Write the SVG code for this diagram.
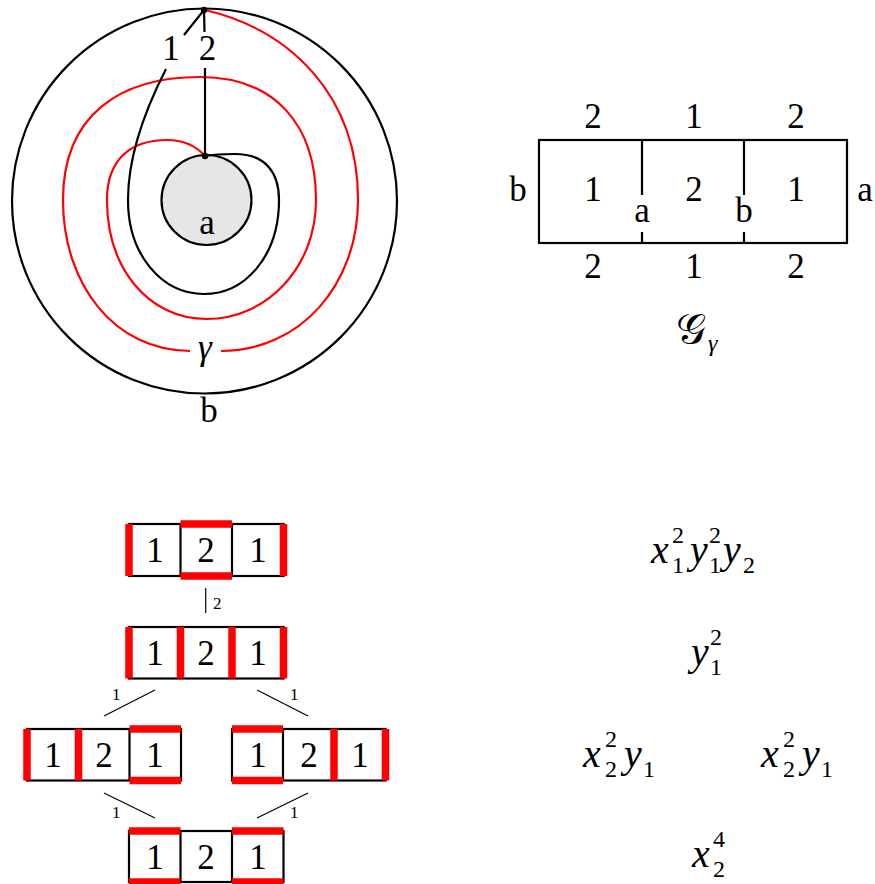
<svg xmlns="http://www.w3.org/2000/svg" width="875" height="884" viewBox="0 0 875 884">
<style>
  text { font-family: "Liberation Serif", "Times New Roman", serif; fill: #000; }
  .lab { font-size: 35px; text-anchor: middle; }
  .it { font-style: italic; font-size: 40px; }
  .sc { font-size: 24px; }
  .sm { font-size: 17px; }
  .blk { fill: none; stroke: #000; stroke-width: 2.2; }
  .red { fill: none; stroke: #ff0000; stroke-width: 2.2; }
  .cell { fill: #fff; stroke: #000; stroke-width: 2.2; }
  .hl { stroke: #ff0000; stroke-width: 7.5; stroke-linecap: butt; }
  .edge { stroke: #000; stroke-width: 1.2; }
</style>
<rect width="875" height="884" fill="#fff"/>

<!-- Annulus -->
<g id="annulus">
  <circle cx="204.5" cy="201" r="192.5" class="blk"/>
  <circle cx="206.5" cy="200" r="45" fill="#e6e6e6" stroke="#000" stroke-width="2.2"/>
  <path class="red" d="M 205 10 C 290 30, 358 95, 358 200 C 358 285, 300 351, 221 351"/>
  <path class="red" d="M 190 351 C 115 351, 63 285, 63 200 C 63 115, 120 77, 200 77 C 275 77, 316 125, 316 200 C 316 268, 266 319, 207 319 C 148 319, 107 268, 107 200 C 107 160, 130 140, 167 140 C 185 140, 197 147, 205 156"/>
  <path class="blk" d="M 204 10 L 184 35 M 166 69 C 145 110, 128 155, 128 200 C 128 255, 162 294, 204 294 C 246 294, 279 255, 279 200 C 279 172, 265 154, 235 154 C 220 154, 210 155, 205 156"/>
  <path class="blk" d="M 204 10 L 204.5 32 M 205 68 L 205 156"/>
  <circle cx="204" cy="10" r="3.2" fill="#000"/>
  <circle cx="205" cy="156" r="3.2" fill="#000"/>
  <text class="lab" x="171" y="60">1</text>
  <text class="lab" x="207.5" y="60">2</text>
  <text class="lab" x="207" y="234">a</text>
  <text class="lab" x="209" y="422">b</text>
  <text class="lab" x="205" y="359" font-style="italic">γ</text>
</g>

<!-- Graph G_gamma -->
<g id="graph">
  <rect x="539" y="140" width="308" height="103" class="blk"/>
  <path class="blk" d="M 642 140 V 195 M 642 232 V 243 M 744 140 V 195 M 744 232 V 243"/>
  <text class="lab" x="593" y="128">2</text>
  <text class="lab" x="694" y="128">1</text>
  <text class="lab" x="796" y="128">2</text>
  <text class="lab" x="593" y="278">2</text>
  <text class="lab" x="694" y="278">1</text>
  <text class="lab" x="796" y="278">2</text>
  <text class="lab" x="518" y="201">b</text>
  <text class="lab" x="593" y="201">1</text>
  <text class="lab" x="694" y="201">2</text>
  <text class="lab" x="796" y="201">1</text>
  <text class="lab" x="865" y="201">a</text>
  <text class="lab" x="642" y="222">a</text>
  <text class="lab" x="744" y="222">b</text>
  <text x="676" y="343" font-size="42">𝒢</text>
  <text x="708" y="351" font-size="24" font-style="italic">γ</text>
</g>

<!-- Connectors of the poset -->
<g id="connectors">
  <line class="edge" x1="205.7" y1="588" x2="205.7" y2="613"/>
  <line class="edge" x1="155" y1="690" x2="104" y2="716"/>
  <line class="edge" x1="257" y1="690" x2="308" y2="716"/>
  <line class="edge" x1="104" y1="793" x2="155" y2="818"/>
  <line class="edge" x1="308" y1="793" x2="257" y2="818"/>
  <text class="sm" x="213" y="609">2</text>
  <text class="sm" x="112" y="700">1</text>
  <text class="sm" x="290" y="700">1</text>
  <text class="sm" x="112" y="818">1</text>
  <text class="sm" x="290" y="818">1</text>
</g>

<!-- Strip 1 -->
<g id="strip1">
  <rect class="cell" x="129" y="524" width="154.5" height="52"/>
  <path class="blk" d="M 180.5 524 V 576 M 232 524 V 576"/>
  <path class="hl" d="M 129 524 V 576 M 283.5 524 V 576 M 180.5 524 H 232 M 180.5 576 H 232"/>
  <text class="lab" x="155" y="562">1</text>
  <text class="lab" x="206" y="562">2</text>
  <text class="lab" x="258" y="562">1</text>
</g>

<!-- Strip 2 -->
<g id="strip2">
  <rect class="cell" x="129" y="627" width="154.5" height="51.5"/>
  <path class="blk" d="M 180.5 627 V 678.5 M 232 627 V 678.5"/>
  <path class="hl" d="M 129 627 V 678.5 M 180.5 627 V 678.5 M 232 627 V 678.5 M 283.5 627 V 678.5"/>
  <text class="lab" x="155" y="665">1</text>
  <text class="lab" x="206" y="665">2</text>
  <text class="lab" x="258" y="665">1</text>
</g>

<!-- Strip 3 left -->
<g id="strip3a">
  <rect class="cell" x="27" y="729" width="154" height="51.5"/>
  <path class="blk" d="M 78.5 729 V 780.5 M 129.5 729 V 780.5"/>
  <path class="hl" d="M 27 729 V 780.5 M 78.5 729 V 780.5 M 129.5 729 H 181 M 129.5 780.5 H 181"/>
  <text class="lab" x="53" y="767">1</text>
  <text class="lab" x="104" y="767">2</text>
  <text class="lab" x="155" y="767">1</text>
</g>

<!-- Strip 3 right -->
<g id="strip3b">
  <rect class="cell" x="232" y="729" width="153.5" height="51.5"/>
  <path class="blk" d="M 283 729 V 780.5 M 334 729 V 780.5"/>
  <path class="hl" d="M 232 729 H 283 M 232 780.5 H 283 M 334 729 V 780.5 M 385.5 729 V 780.5"/>
  <text class="lab" x="258" y="767">1</text>
  <text class="lab" x="309" y="767">2</text>
  <text class="lab" x="360" y="767">1</text>
</g>

<!-- Strip 4 -->
<g id="strip4">
  <rect class="cell" x="129" y="831" width="154.5" height="51"/>
  <path class="blk" d="M 180.5 831 V 882 M 232 831 V 882"/>
  <path class="hl" d="M 129 831 H 180.5 M 129 882 H 180.5 M 232 831 H 283.5 M 232 882 H 283.5"/>
  <text class="lab" x="155" y="869">1</text>
  <text class="lab" x="206" y="869">2</text>
  <text class="lab" x="258" y="869">1</text>
</g>

<!-- Weights -->
<g id="w1">
  <text class="it" x="651" y="563">x</text>
  <text class="sc" x="672" y="543">2</text>
  <text class="sc" x="672" y="573">1</text>
  <text class="it" x="690" y="563">y</text>
  <text class="sc" x="709" y="543">2</text>
  <text class="sc" x="709" y="573">1</text>
  <text class="it" x="723" y="563">y</text>
  <text class="sc" x="743" y="573">2</text>
</g>
<g id="w2">
  <text class="it" x="691" y="665">y</text>
  <text class="sc" x="710" y="645">2</text>
  <text class="sc" x="710" y="675">1</text>
</g>
<g id="w3a">
  <text class="it" x="583" y="767">x</text>
  <text class="sc" x="605" y="747">2</text>
  <text class="sc" x="605" y="777">2</text>
  <text class="it" x="624" y="767">y</text>
  <text class="sc" x="643" y="777">1</text>
</g>
<g id="w3b">
  <text class="it" x="761" y="767">x</text>
  <text class="sc" x="783" y="747">2</text>
  <text class="sc" x="783" y="777">2</text>
  <text class="it" x="802" y="767">y</text>
  <text class="sc" x="821" y="777">1</text>
</g>
<g id="w4">
  <text class="it" x="692" y="867">x</text>
  <text class="sc" x="713" y="847">4</text>
  <text class="sc" x="713" y="877">2</text>
</g>
</svg>
